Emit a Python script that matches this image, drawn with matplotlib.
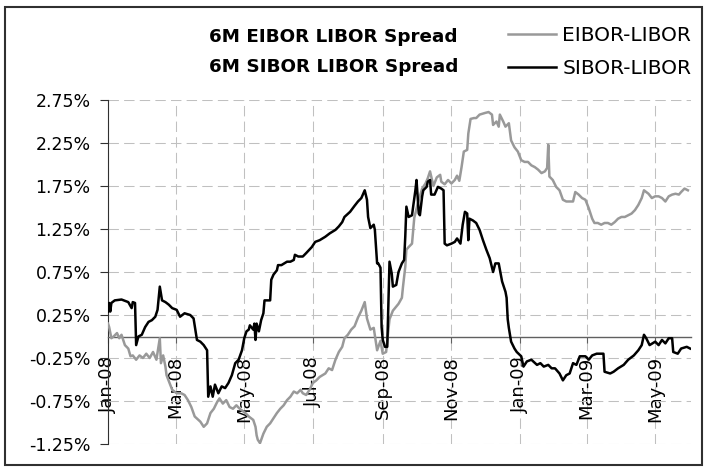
import numpy as np
import matplotlib
matplotlib.use("Agg")
import matplotlib.pyplot as plt
import matplotlib.dates as mdates
from matplotlib.patches import Rectangle
from matplotlib.ticker import FuncFormatter

# day offsets after 1 Jan 2008, spread in %
eibor_day = [0, 1, 3, 5, 8, 10, 12, 15, 18, 20, 22, 25, 28, 31, 34, 37, 40, 43, 46, 47,
             49, 51, 52, 57, 61, 65, 68, 71, 74, 77, 82, 85, 88, 91, 94, 97, 99, 102, 105, 108,
             111, 114, 117, 122, 125, 129, 131, 132, 133, 135, 138, 141, 144, 147, 150, 153, 156, 159, 162, 165,
             168, 171, 173, 176, 179, 182, 185, 188, 193, 196, 199, 202, 205, 208, 210, 213, 216, 219, 222, 225,
             228, 230, 233, 236, 239, 242, 244, 247, 250, 253, 258, 261, 262, 264, 265, 267, 270, 272, 276, 279,
             282, 284, 286, 289, 292, 295, 296, 299, 302, 305, 308, 310, 312, 314, 316, 319, 320, 322, 325, 327,
             330, 335, 338, 341, 342, 345, 347, 348, 351, 353, 356, 358, 361, 364, 367, 370, 373, 376, 379, 382,
             385, 388, 390, 391, 392, 395, 398, 401, 404, 407, 410, 413, 415, 418, 421, 424, 427, 430, 432, 435,
             438, 441, 444, 447, 450, 453, 456, 459, 462, 465, 468, 471, 474, 476, 480, 483, 486, 489, 492, 495,
             498, 501, 504, 507, 509, 512, 515]
eibor_val = [0.15, 0.11, -0.02, 0.00, 0.04, -0.02, 0.02, -0.10, -0.14, -0.23, -0.22, -0.27, -0.22, -0.25, -0.20, -0.25, -0.18, -0.27, -0.02, -0.31,
             -0.22, -0.35, -0.45, -0.62, -0.66, -0.66, -0.68, -0.74, -0.82, -0.93, -0.99, -1.05, -1.01, -0.89, -0.84, -0.76, -0.72, -0.78, -0.74, -0.82,
             -0.84, -0.80, -0.84, -0.89, -0.93, -0.97, -1.05, -1.15, -1.20, -1.24, -1.13, -1.05, -1.01, -0.95, -0.89, -0.84, -0.80, -0.74, -0.70, -0.64,
             -0.66, -0.62, -0.66, -0.68, -0.62, -0.54, -0.51, -0.47, -0.43, -0.37, -0.39, -0.27, -0.18, -0.12, -0.02, 0.02, 0.08, 0.12, 0.22, 0.30,
             0.40, 0.21, 0.08, 0.10, -0.16, -0.05, -0.20, -0.18, 0.20, 0.30, 0.38, 0.45, 0.58, 0.81, 1.01, 1.04, 1.08, 1.38, 1.59, 1.72,
             1.78, 1.84, 1.92, 1.75, 1.85, 1.88, 1.80, 1.77, 1.82, 1.78, 1.82, 1.87, 1.81, 1.97, 2.15, 2.17, 2.36, 2.53, 2.54, 2.54,
             2.58, 2.60, 2.61, 2.58, 2.46, 2.50, 2.44, 2.58, 2.50, 2.44, 2.48, 2.28, 2.20, 2.15, 2.05, 2.03, 2.03, 1.99, 1.97, 1.94,
             1.90, 1.92, 1.96, 2.23, 1.86, 1.82, 1.74, 1.70, 1.59, 1.57, 1.57, 1.57, 1.68, 1.65, 1.61, 1.59, 1.49, 1.37, 1.32, 1.32,
             1.30, 1.32, 1.32, 1.30, 1.33, 1.37, 1.39, 1.39, 1.41, 1.43, 1.47, 1.53, 1.61, 1.70, 1.66, 1.61, 1.63, 1.63, 1.61, 1.57,
             1.63, 1.65, 1.66, 1.65, 1.68, 1.72, 1.70]

sibor_day = [0, 1, 2, 3, 6, 12, 18, 21, 22, 24, 25, 27, 30, 33, 36, 39, 42, 44, 46, 48,
             51, 54, 57, 61, 64, 68, 73, 76, 79, 82, 85, 88, 89, 91, 93, 95, 98, 101, 104, 107,
             110, 113, 116, 119, 121, 123, 125, 126, 129, 130, 131, 132, 134, 136, 138, 139, 144, 145, 147, 150,
             151, 154, 159, 162, 165, 166, 169, 173, 176, 181, 184, 188, 193, 197, 202, 205, 208, 210, 215, 219,
             222, 225, 228, 230, 231, 233, 236, 237, 239, 240, 242, 243, 244, 246, 248, 250, 252, 253, 256, 258,
             261, 263, 264, 265, 267, 270, 271, 273, 274, 276, 277, 279, 280, 283, 284, 286, 287, 290, 293, 296,
             298, 299, 301, 305, 308, 310, 313, 315, 317, 319, 320, 321, 324, 327, 330, 333, 336, 339, 342, 344,
             347, 350, 353, 354, 355, 356, 358, 361, 363, 367, 369, 372, 376, 381, 384, 387, 391, 394, 397, 401,
             404, 407, 410, 413, 416, 419, 424, 427, 430, 434, 440, 441, 446, 449, 453, 458, 462, 467, 471, 474,
             476, 478, 481, 486, 489, 492, 495, 498, 501, 502, 506, 509, 514, 517]
sibor_val = [0.29, 0.39, 0.29, 0.39, 0.42, 0.43, 0.40, 0.33, 0.40, 0.39, -0.10, 0.00, 0.02, 0.11, 0.17, 0.19, 0.23, 0.31, 0.58, 0.42,
             0.40, 0.37, 0.33, 0.31, 0.23, 0.27, 0.25, 0.21, -0.04, -0.06, -0.10, -0.16, -0.70, -0.58, -0.70, -0.56, -0.66, -0.58, -0.60, -0.54,
             -0.45, -0.31, -0.27, -0.16, -0.02, 0.06, 0.08, 0.13, 0.08, 0.15, -0.04, 0.15, 0.06, 0.19, 0.27, 0.42, 0.42, 0.66, 0.72, 0.77,
             0.83, 0.83, 0.87, 0.87, 0.89, 0.95, 0.93, 0.93, 0.97, 1.04, 1.10, 1.12, 1.16, 1.20, 1.24, 1.28, 1.33, 1.39, 1.45, 1.52,
             1.57, 1.61, 1.70, 1.59, 1.39, 1.26, 1.30, 1.24, 0.85, 0.85, 0.80, 0.11, -0.04, -0.12, -0.12, 0.87, 0.73, 0.58, 0.60, 0.75,
             0.85, 0.89, 1.16, 1.51, 1.39, 1.41, 1.51, 1.70, 1.82, 1.43, 1.41, 1.63, 1.70, 1.74, 1.80, 1.82, 1.65, 1.65, 1.74, 1.72,
             1.70, 1.08, 1.06, 1.08, 1.10, 1.14, 1.08, 1.30, 1.45, 1.43, 1.12, 1.37, 1.35, 1.32, 1.24, 1.12, 1.01, 0.91, 0.75, 0.85,
             0.85, 0.64, 0.52, 0.45, 0.20, 0.10, -0.06, -0.14, -0.18, -0.23, -0.35, -0.29, -0.27, -0.33, -0.31, -0.35, -0.33, -0.37, -0.37, -0.43,
             -0.51, -0.45, -0.43, -0.31, -0.33, -0.23, -0.23, -0.27, -0.22, -0.20, -0.20, -0.41, -0.43, -0.41, -0.37, -0.33, -0.27, -0.22, -0.16, -0.10,
             0.02, -0.02, -0.10, -0.06, -0.10, -0.04, -0.08, -0.02, -0.02, -0.18, -0.20, -0.14, -0.12, -0.14]

yticks = [-1.25, -0.75, -0.25, 0.25, 0.75, 1.25, 1.75, 2.25, 2.75]

start = np.datetime64('2008-01-01')
eibor_dates = start + np.array(eibor_day).astype('timedelta64[D]')
sibor_dates = start + np.array(sibor_day).astype('timedelta64[D]')

W, H = 707, 469
fig = plt.figure(figsize=(W / 100, H / 100), dpi=100)
ax = fig.add_axes([108 / W, 1 - 444 / H, (690.7 - 108) / W, (444 - 100) / H])

l1, = ax.plot(eibor_dates, eibor_val, color='#999999', lw=1.8, zorder=3)
l2, = ax.plot(sibor_dates, sibor_val, color='black', lw=1.8, zorder=3)

x0 = mdates.date2num(start)
ax.set_xlim(x0, x0 + 517.5)
ax.set_ylim(-1.25, 2.75)
ax.set_yticks(yticks)
ax.yaxis.set_major_formatter(FuncFormatter(lambda v, p: '%.2f%%' % v))
ax.xaxis.set_major_locator(mdates.MonthLocator(bymonth=[1, 3, 5, 7, 9, 11]))
ax.xaxis.set_major_formatter(mdates.DateFormatter('%b-%y'))

ax.grid(True, color='#c0c0c0', lw=0.75, linestyle=(0, (10, 5)))
ax.set_axisbelow(True)

for s in ['top', 'right']:
    ax.spines[s].set_visible(False)
ax.spines['bottom'].set_position(('data', 0))
ax.spines['bottom'].set_color('#606060')
ax.spines['bottom'].set_linewidth(1.0)
ax.spines['left'].set_color('#303030')

ax.tick_params(axis='y', direction='out', length=5.5, pad=7, labelsize=12.5, colors='#303030', labelcolor='black')
ax.tick_params(axis='x', direction='out', length=4.3, pad=10, labelsize=13, colors='#606060', labelcolor='black')
for lab in ax.get_xticklabels():
    lab.set_rotation(90)

fig.text(209 / W, 1 - 42.5 / H, '6M EIBOR LIBOR Spread', ha='left', va='baseline',
         fontsize=13.2, fontweight='bold')
fig.text(209 / W, 1 - 71.5 / H, '6M SIBOR LIBOR Spread', ha='left', va='baseline',
         fontsize=13.2, fontweight='bold')

ax.legend([l1, l2], ['EIBOR-LIBOR', 'SIBOR-LIBOR'], loc='upper left',
          bbox_to_anchor=(508 / W, 1 - 26 / H), bbox_transform=fig.transFigure,
          frameon=False, borderpad=0, borderaxespad=0, handlelength=2.4,
          handletextpad=0.3, labelspacing=0.7, fontsize=14.5)

fig.patches.append(Rectangle((5 / W, 4 / H), 697 / W, 458 / H, transform=fig.transFigure,
                             fill=False, ec='#303030', lw=1.5))

fig.savefig('out.png', dpi=100)
